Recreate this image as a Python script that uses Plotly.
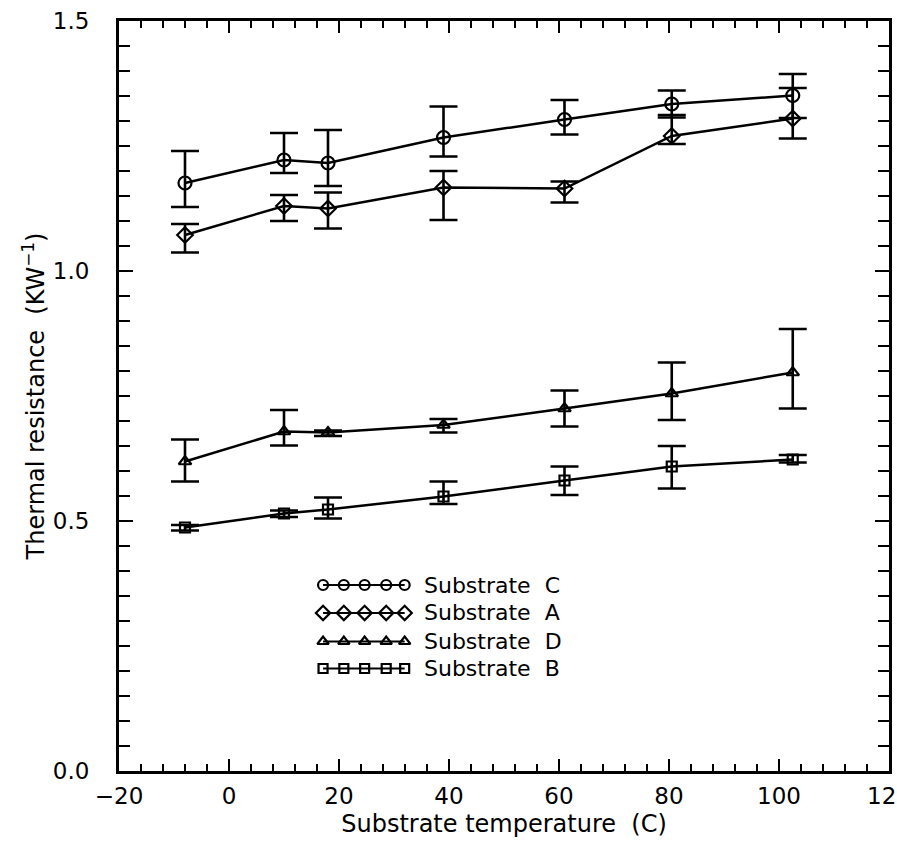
import plotly.graph_objects as go

# ---- data ----
temps = [-8, 10, 18, 39, 61, 80.5, 102.5]

C_val = [1.176, 1.222, 1.216, 1.267, 1.303, 1.334, 1.351]
C_hi = [1.240, 1.276, 1.282, 1.329, 1.342, 1.361, 1.394]
C_lo = [1.128, 1.196, 1.170, 1.229, 1.273, 1.307, 1.306]

A_val = [1.072, 1.130, 1.125, 1.167, 1.165, 1.270, 1.305]
A_hi = [1.094, 1.152, 1.157, 1.200, 1.179, 1.312, 1.366]
A_lo = [1.037, 1.100, 1.085, 1.102, 1.137, 1.254, 1.265]

D_val = [0.619, 0.679, 0.677, 0.692, 0.725, 0.755, 0.797]
D_hi = [0.663, 0.722, 0.681, 0.704, 0.761, 0.817, 0.884]
D_lo = [0.579, 0.651, 0.670, 0.677, 0.689, 0.702, 0.725]

B_val = [0.487, 0.515, 0.523, 0.549, 0.581, 0.609, 0.623]
B_hi = [0.492, 0.521, 0.547, 0.579, 0.609, 0.650, 0.632]
B_lo = [0.481, 0.508, 0.505, 0.534, 0.552, 0.565, 0.617]

series_names = ["Substrate\u00a0\u00a0C", "Substrate\u00a0\u00a0A",
                "Substrate\u00a0\u00a0D", "Substrate\u00a0\u00a0B"]
series_symbols = ["circle-open", "diamond-open", "triangle-up-open", "square-open"]
series_sizes = [13, 12, 11, 10]
legend_sizes = [10, 11, 10, 9]

FONT = "DejaVu Sans"
BLACK = "black"

series = [(C_val, C_hi, C_lo), (A_val, A_hi, A_lo),
          (D_val, D_hi, D_lo), (B_val, B_hi, B_lo)]

fig = go.Figure()

for (vals, hi, lo), sym, sz in zip(series, series_symbols, series_sizes):
    fig.add_trace(go.Scatter(
        x=temps, y=vals, mode="lines+markers",
        line=dict(color=BLACK, width=2.5),
        marker=dict(symbol=sym, size=sz, color=BLACK, line=dict(width=2.2, color=BLACK)),
        error_y=dict(type="data", symmetric=False,
                     array=[h - v for h, v in zip(hi, vals)],
                     arrayminus=[v - l for v, l in zip(vals, lo)],
                     color=BLACK, thickness=2.6, width=14),
        showlegend=False,
    ))

# ---- custom legend (5-marker sample lines), drawn on an overlay axis in [0,1] ----
leg_rows = [0.248, 0.2107, 0.1727, 0.1367]
leg_marker_x = [0.265, 0.292, 0.319, 0.347, 0.371]
leg_text_x = 0.394
for name, sym, sz, ry in zip(series_names, series_symbols, legend_sizes, leg_rows):
    fig.add_trace(go.Scatter(
        x=leg_marker_x, y=[ry] * len(leg_marker_x), xaxis="x2", yaxis="y2",
        mode="lines+markers",
        line=dict(color=BLACK, width=2.2),
        marker=dict(symbol=sym, size=sz, color=BLACK, line=dict(width=2.2, color=BLACK)),
        showlegend=False, hoverinfo="skip",
    ))
    fig.add_annotation(x=leg_text_x, y=ry, xref="x2", yref="y2", text=name,
                       showarrow=False, xanchor="left", yanchor="middle",
                       font=dict(family=FONT, size=22, color=BLACK))

fig.update_layout(
    width=897, height=848,
    margin=dict(l=119, r=8, t=21, b=77),
    paper_bgcolor="white", plot_bgcolor="white",
    font=dict(family=FONT, size=22, color=BLACK),
    xaxis=dict(
        range=[-20, 120], tick0=-20, dtick=20,
        showgrid=False, zeroline=False,
        showline=True, linewidth=3, linecolor=BLACK, mirror="allticks",
        ticks="inside", ticklen=12, tickwidth=2, tickcolor=BLACK,
        minor=dict(dtick=4, ticks="inside", ticklen=7, tickwidth=2, tickcolor=BLACK, showgrid=False),
        tickfont=dict(family=FONT, size=23, color=BLACK),
        ticklabeloverflow="allow",
        ticklabelstandoff=2,
        title=dict(text="Substrate temperature\u00a0\u00a0(C)", standoff=8,
                   font=dict(family=FONT, size=24, color=BLACK)),
        automargin=False,
    ),
    yaxis=dict(
        range=[0, 1.5], tick0=0, dtick=0.5, tickformat=".1f",
        showgrid=False, zeroline=False,
        showline=True, linewidth=3, linecolor=BLACK, mirror="allticks",
        ticks="inside", ticklen=14, tickwidth=2, tickcolor=BLACK,
        minor=dict(dtick=0.05, ticks="inside", ticklen=11, tickwidth=2, tickcolor=BLACK, showgrid=False),
        tickfont=dict(family=FONT, size=23, color=BLACK),
        ticklabelstandoff=22,
        title=dict(text="Thermal resistance\u00a0\u00a0(KW<sup>\u22121</sup>)", standoff=2,
                   font=dict(family=FONT, size=24, color=BLACK)),
        automargin=False,
    ),
    xaxis2=dict(overlaying="x", range=[0, 1], visible=False, fixedrange=True),
    yaxis2=dict(overlaying="y", range=[0, 1], visible=False, fixedrange=True),
)

fig.write_html("out.html")
